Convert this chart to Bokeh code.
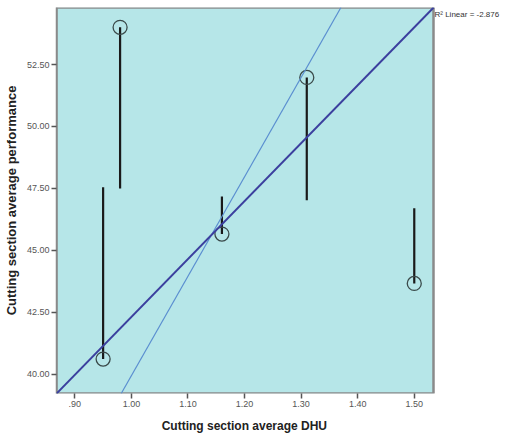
from bokeh.plotting import figure
from bokeh.models import Range1d, FixedTicker, Slope, Label, BoxAnnotation
from bokeh.embed import file_html
from bokeh.resources import INLINE

# data
dhu = [0.95, 0.98, 1.16, 1.31, 1.50]
performance = [40.62, 54.00, 45.66, 51.98, 43.67]
spike_end = [47.55, 47.50, 47.18, 47.03, 46.70]

# fit lines (gradient, intercept)
fit_dark = (23.36, 18.96)
fit_light = (40.1, -0.15)
r2_text = "R\u00b2 Linear = -2.876"

x_ticks = [0.9, 1.0, 1.1, 1.2, 1.3, 1.4, 1.5]
x_tick_labels = [".90", "1.00", "1.10", "1.20", "1.30", "1.40", "1.50"]
y_ticks = [40.0, 42.5, 45.0, 47.5, 50.0, 52.5]
y_tick_labels = ["40.00", "42.50", "45.00", "47.50", "50.00", "52.50"]

x_view = (0.8676, 1.534)      # shaded plot region on the x axis
y_view = (39.23, 54.8)

W, H = 505, 437
left_b, top_b, bottom_b = 56, 7, 44
frame_w = W - left_b                 # frame spans to the right edge so the note can sit beside the box
box_w = 377                          # width in px of the shaded region
x_end = x_view[0] + (x_view[1] - x_view[0]) * frame_w / box_w

p = figure(width=W, height=H, output_backend="svg", toolbar_location=None,
           x_range=Range1d(x_view[0], x_end), y_range=Range1d(*y_view),
           min_border_left=left_b, min_border_right=0, min_border_top=top_b,
           min_border_bottom=bottom_b)
p.background_fill_color = "white"
p.border_fill_color = "white"
p.outline_line_color = None
p.grid.visible = False

p.add_layout(BoxAnnotation(left=x_view[0], right=x_view[1], level="underlay",
                           fill_color="#b6e6e8", fill_alpha=1,
                           line_color="#8a8a8a", line_width=2.5, line_alpha=1))

p.add_layout(Slope(gradient=fit_light[0], y_intercept=fit_light[1],
                   line_color="#5a8ed0", line_width=1.2))
p.add_layout(Slope(gradient=fit_dark[0], y_intercept=fit_dark[1],
                   line_color="#3b3f9e", line_width=2))

p.segment(x0=dhu, y0=performance, x1=dhu, y1=spike_end, line_color="#1a1a1a", line_width=2.2)
p.scatter(dhu, performance, size=14, marker="circle", fill_color=None,
          line_color="#3a4a4a", line_width=1.3)

p.add_layout(Label(x=x_view[1], y=y_view[1], x_offset=1, y_offset=-7, text=r2_text,
                   text_baseline="middle",
                   text_font="Liberation Sans", text_font_size="8px", text_color="#333333"))

for ax in (p.xaxis, p.yaxis):
    ax.axis_line_color = "#8a8a8a"
    ax.axis_line_width = 1.5
    ax.major_tick_line_color = "#555555"
    ax.major_tick_line_width = 1.5
    ax.major_tick_out = 5
    ax.major_tick_in = 0
    ax.minor_tick_line_color = None
    ax.major_label_text_font = "Liberation Sans"
    ax.major_label_text_font_size = "9px"
    ax.major_label_text_color = "#555555"
    ax.axis_label_text_font = "Liberation Sans"
    ax.axis_label_text_font_style = "bold"
    ax.axis_label_text_font_size = "12px"
    ax.axis_label_text_color = "#222222"

p.xaxis.axis_line_color = None
p.yaxis.axis_label_text_font_size = "13px"
p.xaxis.ticker = FixedTicker(ticks=x_ticks)
p.xaxis.major_label_overrides = dict(zip(x_ticks, x_tick_labels))
p.yaxis.ticker = FixedTicker(ticks=y_ticks)
p.yaxis.major_label_overrides = dict(zip(y_ticks, y_tick_labels))
# trailing no-break spaces keep the title centred under the shaded box, not the wider frame
p.xaxis.axis_label = "Cutting section average DHU" + "\u00a0" * 22
p.yaxis.axis_label = "Cutting section average performance"
p.xaxis.major_label_standoff = 2
p.xaxis.axis_label_standoff = 9
p.yaxis.major_label_standoff = 2
p.yaxis.axis_label_standoff = 5

open("out.html", "w").write(file_html(p, INLINE))
